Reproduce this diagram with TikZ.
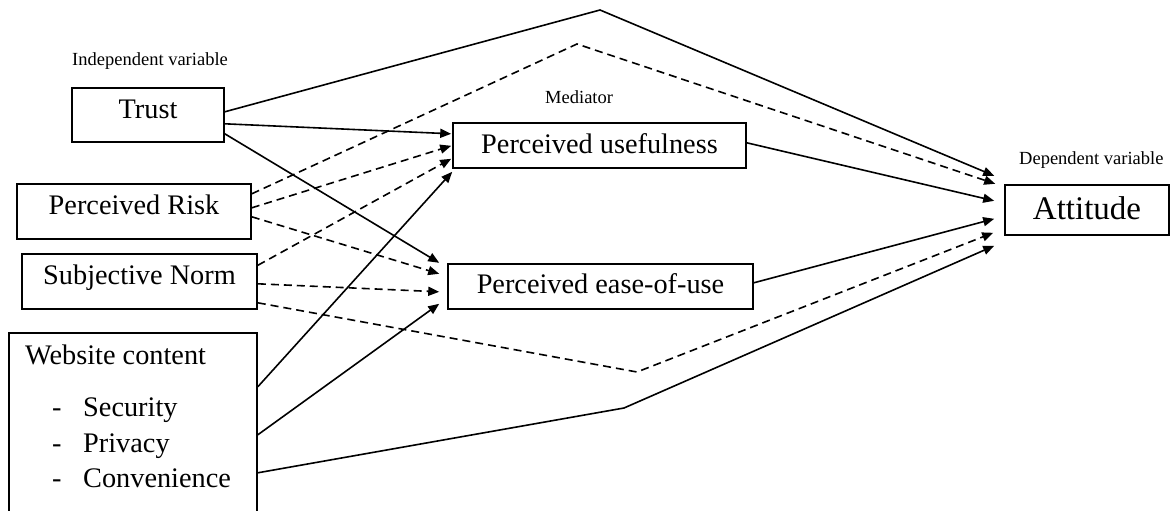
\documentclass[tikz,border=0pt]{standalone}
\usepackage{fontspec}
\setmainfont{Liberation Serif}
\usetikzlibrary{arrows.meta,calc}
\begin{document}
\begin{tikzpicture}[x=1pt,y=-1pt,
  box/.style={draw,line width=1.6pt,inner sep=0pt,font=\fontsize{28.3}{30}\selectfont},
  lab/.style={inner sep=0pt,anchor=base west,font=\fontsize{18.5}{20}\selectfont},
  big/.style={inner sep=0pt,anchor=base west,font=\fontsize{28.3}{30}\selectfont},
  conn/.style={line width=1.6pt,-{Triangle[length=11pt,width=9pt]}},
  dconn/.style={conn,dash pattern=on 8pt off 5pt}]
\useasboundingbox (0,0) rectangle (1175,511);
% boxes
\node[box,minimum width=152pt,text height=31pt,text depth=23pt] (trust) at (148,87) [anchor=north] {Trust};
\node[box,minimum width=234pt,text height=31pt,text depth=24pt] (pr) at (134,183) [anchor=north] {Perceived Risk};
\node[box,minimum width=235pt,text height=31pt,text depth=24pt] (sn) at (139.5,253) [anchor=north] {Subjective Norm};
\node[box,minimum width=248pt,minimum height=198pt] (wc) at (133,332) [anchor=north] {};
\node[box,minimum width=293pt,text height=31pt,text depth=14pt] (pu) at (599.5,122) [anchor=north] {Perceived usefulness};
\node[box,minimum width=305pt,text height=30pt,text depth=15pt] (peou) at (600.5,263) [anchor=north] {Perceived ease-of-use};
\node[box,minimum width=164pt,text height=35pt,text depth=15pt,font=\fontsize{33}{35}\selectfont] (att) at (1087,184) [anchor=north] {Attitude};
% website content text
\node[big] (wct) at (25,364) {Website content};
\node[big] (d1) at (52,416) {-};
\node[big] (i1) at (83,416) {Security};
\node[big] (d2) at (52,452) {-};
\node[big] (i2) at (83,452) {Privacy};
\node[big] (d3) at (52,487) {-};
\node[big] (i3) at (83,487) {Convenience};
% labels
\node[lab] (indep) at (72,66) {Independent variable};
\node[lab] (med) at (545,103) {Mediator};
\node[lab] (dep) at (1019,164) {Dependent variable};
% bend points
\coordinate (ap1) at (600,10);
\coordinate (ap2) at (577,44);
\coordinate (bd3) at (637,372);
\coordinate (bd4) at (624,408);
% Trust
\draw[conn] ($(trust.east)+(0,-3)$) -- (ap1) -- ($(att.west)+(-10,-34)$);
\draw[conn] ($(trust.east)+(0,9)$) -- ($(pu.west)+(-1,-11.5)$);
\draw[conn] ($(trust.east)+(0,19)$) -- ($(peou.west)+(-8,-23.5)$);
% Perceived Risk
\draw[dconn] ($(pr.east)+(0,-17.5)$) -- (ap2) -- ($(att.west)+(-9,-26)$);
\draw[dconn] ($(pr.east)+(0,-3.5)$) -- ($(pu.west)+(-1,0.5)$);
\draw[dconn] ($(pr.east)+(0,5.5)$) -- ($(peou.west)+(-8,-12.5)$);
% Subjective Norm
\draw[dconn] ($(sn.east)+(0,-16)$) -- ($(pu.west)+(-1,13.5)$);
\draw[dconn] ($(sn.east)+(0,2.5)$) -- ($(peou.west)+(-8,5.5)$);
\draw[dconn] ($(sn.east)+(0,21.5)$) -- (bd3) -- ($(att.west)+(-11,23)$);
% Website content
\draw[conn] ($(wc.east)+(0,-45)$) -- ($(pu.west)+(0,26.5)$);
\draw[conn] ($(wc.east)+(0,3)$) -- ($(peou.west)+(-8,17.5)$);
\draw[conn] ($(wc.east)+(0,41)$) -- (bd4) -- ($(att.west)+(-10,36)$);
% mediators to attitude
\draw[conn] ($(pu.east)+(0,-2.5)$) -- ($(att.west)+(-10,-9)$);
\draw[conn] ($(peou.east)+(0,-3.5)$) -- ($(att.west)+(-10,9)$);
\end{tikzpicture}
\end{document}
